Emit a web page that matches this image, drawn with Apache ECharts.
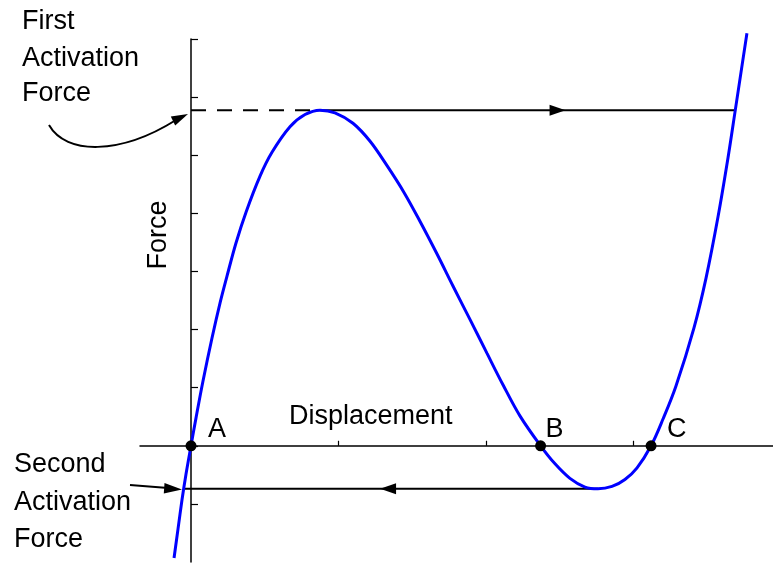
<!DOCTYPE html>
<html>
<head>
<meta charset="utf-8">
<script src="https://cdn.jsdelivr.net/npm/echarts@6/dist/echarts.min.js"></script>
<style>
  html, body { margin: 0; padding: 0; background: #fff; }
  #chart { width: 773px; height: 564px; }
</style>
</head>
<body>
<div id="chart"></div>
<script>
// Force–displacement curve of a bistable element
const curveX = [-0.115, -0.088, -0.061, -0.034, 0, 0.034, 0.081, 0.142, 0.197, 0.244, 0.305, 0.373,
  0.468, 0.549, 0.671, 0.773, 0.875, 0.976, 1.098, 1.214, 1.329, 1.444, 1.553, 1.668, 1.776, 1.892,
  2.007, 2.115, 2.231, 2.370, 2.468, 2.569, 2.671, 2.759, 2.854, 2.942, 3.024, 3.119, 3.200, 3.288,
  3.410, 3.492, 3.573, 3.641, 3.690, 3.729, 3.769];
const curveY = [-1.93, -1.43, -0.93, -0.49, 0, 0.48, 1.11, 1.85, 2.46, 2.92, 3.49, 4.02,
  4.64, 5.05, 5.49, 5.70, 5.776, 5.73, 5.55, 5.24, 4.82, 4.36, 3.86, 3.30, 2.75, 2.17,
  1.59, 1.05, 0.51, 0, -0.31, -0.56, -0.71, -0.741, -0.70, -0.58, -0.38, 0, 0.46, 1.03,
  2.03, 2.89, 3.94, 4.96, 5.776, 6.43, 7.10];

// Equilibrium points on the displacement axis
const rootNames = ['A', 'B', 'C'];
const rootX = [0, 2.370, 3.119];

// First activation force: peak of the curve, jump to the far branch
const firstForce = 5.776;
const firstPeakX = 0.875;
const firstJumpX = 3.690;
const firstArrowX = 2.485;

// Second activation force: valley of the curve, jump back past A
const secondForce = -0.741;
const secondValleyX = 2.759;
const secondJumpX = -0.041;
const secondArrowX = 1.336;

// Tick positions
const xTicks = [0, 1, 2, 3];
const yTicks = [-1, 0, 1, 2, 3, 4, 5, 6, 7];

const FONT = '"Liberation Sans", Arial, Helvetica, sans-serif';
const FS = 27;

const chart = echarts.init(document.getElementById('chart'), null, { renderer: 'canvas' });

const curveData = curveX.map((x, i) => [x, curveY[i]]);
const rootOffsets = [[17, -16], [5, -16], [16, -16]];
const rootData = rootX.map((x, i) => ({
  value: [x, 0],
  name: rootNames[i],
  label: { offset: rootOffsets[i] }
}));

function textEl(str, x, y, extra) {
  return Object.assign({
    type: 'text',
    x: x, y: y,
    silent: true,
    style: {
      text: str,
      fill: '#000',
      fontSize: FS,
      fontFamily: FONT,
      textAlign: 'left',
      textVerticalAlign: 'middle'
    }
  }, extra || {});
}

const option = {
  animation: false,
  backgroundColor: '#fff',
  grid: { left: 140, right: 0, top: 39, bottom: 2, containLabel: false },
  xAxis: {
    type: 'value',
    min: -0.3458,
    max: 3.9457,
    axisLine: { show: true, onZero: true, lineStyle: { color: '#000', width: 1.5 } },
    axisTick: { show: true, inside: true, length: 5, customValues: xTicks, lineStyle: { color: '#000', width: 1.2 } },
    axisLabel: { show: false },
    splitLine: { show: false }
  },
  yAxis: {
    type: 'value',
    min: -2,
    max: 7,
    axisLine: { show: true, onZero: true, lineStyle: { color: '#000', width: 1.5 } },
    axisTick: { show: true, inside: true, length: 7, customValues: yTicks, lineStyle: { color: '#000', width: 1.2 } },
    axisLabel: { show: false },
    splitLine: { show: false }
  },
  series: [
    {
      type: 'line',
      data: [[0, firstForce], [firstPeakX, firstForce]],
      symbol: 'none',
      lineStyle: { color: '#000', width: 2, type: [15, 11] },
      z: 2
    },
    {
      type: 'line',
      data: [[firstPeakX, firstForce], [firstJumpX, firstForce]],
      symbol: 'none',
      lineStyle: { color: '#000', width: 2 },
      z: 2
    },
    {
      type: 'line',
      data: [[secondJumpX, secondForce], [secondValleyX, secondForce]],
      symbol: 'none',
      lineStyle: { color: '#000', width: 2 },
      z: 2
    },
    {
      type: 'scatter',
      data: [[firstArrowX, firstForce]],
      symbol: 'triangle',
      symbolSize: [11, 16],
      symbolRotate: -90,
      itemStyle: { color: '#000', opacity: 1 },
      z: 3
    },
    {
      type: 'scatter',
      data: [[secondArrowX, secondForce]],
      symbol: 'triangle',
      symbolSize: [11, 16],
      symbolRotate: 90,
      itemStyle: { color: '#000', opacity: 1 },
      z: 3
    },
    {
      type: 'line',
      data: curveData,
      smooth: 0.35,
      symbol: 'none',
      clip: false,
      lineStyle: { color: '#0000ff', width: 3 },
      z: 4
    },
    {
      type: 'scatter',
      data: rootData,
      symbol: 'circle',
      symbolSize: 11,
      itemStyle: { color: '#000', opacity: 1 },
      label: {
        show: true,
        position: 'inside',
        align: 'left',
        verticalAlign: 'middle',
        formatter: '{b}',
        color: '#000',
        textBorderWidth: 0,
        fontSize: FS,
        fontFamily: FONT
      },
      z: 5
    }
  ],
  graphic: [
    // annotation: first activation force
    textEl('First', 22, 22),
    textEl('Activation', 22, 59),
    textEl('Force', 22, 94),
    {
      type: 'bezierCurve',
      silent: true,
      shape: { x1: 49, y1: 125, cpx1: 66, cpy1: 155, cpx2: 120, cpy2: 155, x2: 176, y2: 120 },
      style: { stroke: '#000', lineWidth: 2, fill: null }
    },
    {
      type: 'polygon',
      silent: true,
      shape: { points: [[188, 114], [175.2, 125.6], [170.8, 116.4]] },
      style: { fill: '#000' }
    },
    // annotation: second activation force
    textEl('Second', 14, 465),
    textEl('Activation', 14, 503),
    textEl('Force', 14, 540),
    {
      type: 'line',
      silent: true,
      shape: { x1: 130, y1: 485, x2: 168, y2: 488 },
      style: { stroke: '#000', lineWidth: 2 }
    },
    {
      type: 'polygon',
      silent: true,
      shape: { points: [[182, 489.5], [164.5, 483], [163.8, 493.5]] },
      style: { fill: '#000' }
    },
    // axis titles
    textEl('Displacement', 289, 417),
    textEl('Force', 159, 235, { rotation: Math.PI / 2, style: {
      text: 'Force', fill: '#000', fontSize: FS, fontFamily: FONT,
      textAlign: 'center', textVerticalAlign: 'middle' } })
  ]
};

chart.setOption(option);
</script>
</body>
</html>
